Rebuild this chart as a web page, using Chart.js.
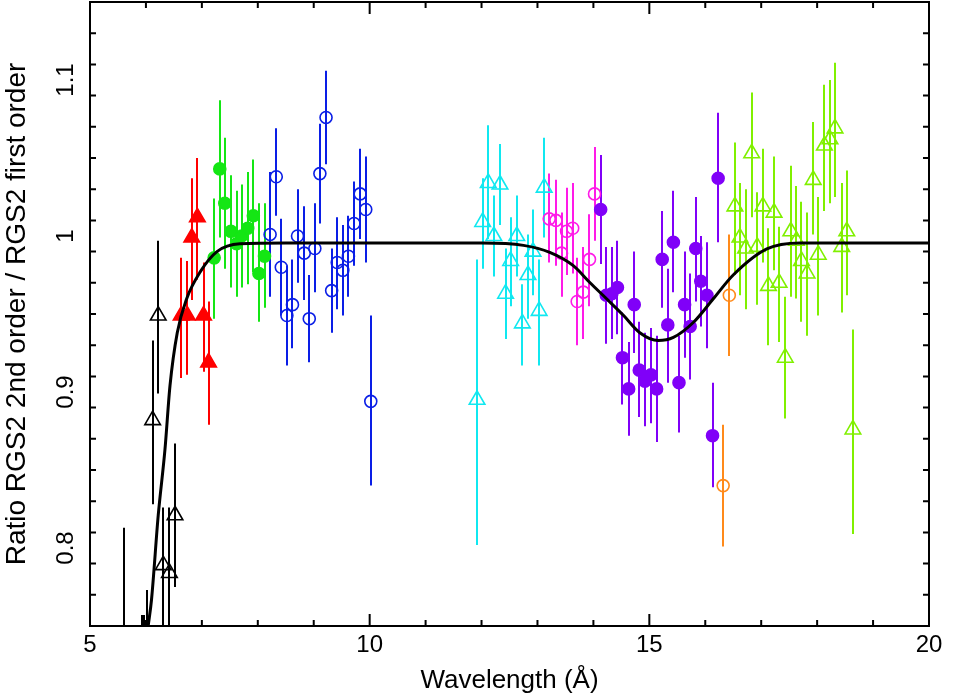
<!DOCTYPE html>
<html>
<head>
<meta charset="utf-8">
<script src="https://cdn.jsdelivr.net/npm/chart.js@4.4.1/dist/chart.umd.min.js"></script>
<style>
  html, body { margin: 0; padding: 0; background: #fff; }
  #wrap { width: 961px; height: 696px; }
</style>
</head>
<body>
<div id="wrap"><canvas id="myChart" width="961" height="696"></canvas></div>
<script>
// rows: [wavelength, ratio, error bar low, error bar high]
const black = [
    [5.61, 0.70, 0.59, 0.813],
    [5.93, 0.70, 0.64, 0.757],
    [5.96, 0.70, 0.64, 0.757],
    [6.02, 0.70, 0.63, 0.773],
    [6.12, 0.882, 0.828, 0.933],
    [6.22, 0.949, 0.899, 0.997],
    [6.31, 0.789, 0.70, 0.826],
    [6.42, 0.784, 0.70, 0.826],
    [6.52, 0.821, 0.775, 0.867],
];
const red = [
    [6.63, 0.949, 0.909, 0.986],
    [6.74, 0.949, 0.911, 0.984],
    [6.82, 0.999, 0.959, 1.037],
    [6.92, 1.012, 0.972, 1.050],
    [7.03, 0.949, 0.913, 0.983],
    [7.12, 0.919, 0.879, 0.958],
];
const green = [
    [7.22, 0.986, 0.947, 1.024],
    [7.32, 1.043, 0.999, 1.087],
    [7.41, 1.021, 0.979, 1.063],
    [7.52, 1.003, 0.967, 1.039],
    [7.62, 0.995, 0.961, 1.029],
    [7.71, 1.000, 0.967, 1.033],
    [7.82, 1.005, 0.969, 1.041],
    [7.92, 1.013, 0.977, 1.049],
    [8.02, 0.976, 0.945, 1.021],
    [8.12, 0.987, 0.954, 1.021],
];
const blue = [
    [8.22, 1.001, 0.961, 1.041],
    [8.33, 1.038, 1.013, 1.069],
    [8.42, 0.980, 0.949, 1.011],
    [8.52, 0.949, 0.917, 0.981],
    [8.62, 0.956, 0.928, 0.985],
    [8.71, 1.000, 0.970, 1.030],
    [8.83, 0.989, 0.959, 1.019],
    [8.92, 0.947, 0.919, 0.975],
    [9.02, 0.992, 0.964, 1.021],
    [9.11, 1.040, 1.008, 1.072],
    [9.22, 1.076, 1.046, 1.106],
    [9.32, 0.965, 0.938, 0.992],
    [9.42, 0.983, 0.953, 1.012],
    [9.52, 0.978, 0.949, 1.007],
    [9.62, 0.987, 0.961, 1.013],
    [9.72, 1.008, 0.981, 1.035],
    [9.83, 1.027, 0.998, 1.056],
    [9.93, 1.017, 0.983, 1.051],
    [10.02, 0.894, 0.840, 0.949],
];
const cyan = [
    [11.92, 0.895, 0.802, 0.985],
    [12.02, 1.009, 0.979, 1.037],
    [12.12, 1.034, 0.998, 1.071],
    [12.22, 1.000, 0.974, 1.026],
    [12.33, 1.033, 1.007, 1.059],
    [12.43, 0.963, 0.934, 0.992],
    [12.52, 0.984, 0.955, 1.012],
    [12.63, 1.000, 0.974, 1.026],
    [12.73, 0.944, 0.917, 0.969],
    [12.83, 0.975, 0.947, 1.001],
    [12.92, 0.990, 0.962, 1.017],
    [13.03, 0.952, 0.917, 0.985],
    [13.12, 1.031, 0.999, 1.063],
];
const magenta = [
    [13.21, 1.011, 0.983, 1.040],
    [13.33, 1.010, 0.981, 1.036],
    [13.43, 0.989, 0.961, 1.015],
    [13.52, 1.003, 0.975, 1.031],
    [13.63, 1.005, 0.976, 1.034],
    [13.71, 0.958, 0.930, 0.986],
    [13.82, 0.964, 0.934, 0.993],
    [13.93, 0.985, 0.955, 1.014],
    [14.02, 1.027, 0.997, 1.057],
];
const purple = [
    [14.13, 1.017, 0.982, 1.052],
    [14.23, 0.962, 0.931, 0.993],
    [14.33, 0.963, 0.934, 0.993],
    [14.43, 0.967, 0.937, 0.997],
    [14.52, 0.922, 0.892, 0.951],
    [14.63, 0.902, 0.872, 0.932],
    [14.73, 0.956, 0.925, 0.990],
    [14.82, 0.914, 0.884, 0.945],
    [14.92, 0.907, 0.878, 0.938],
    [15.03, 0.911, 0.880, 0.941],
    [15.13, 0.902, 0.868, 0.936],
    [15.23, 0.985, 0.954, 1.016],
    [15.33, 0.943, 0.906, 0.979],
    [15.43, 0.996, 0.964, 1.029],
    [15.53, 0.906, 0.874, 0.936],
    [15.63, 0.956, 0.922, 0.990],
    [15.73, 0.942, 0.908, 0.976],
    [15.83, 0.992, 0.958, 1.025],
    [15.92, 0.971, 0.942, 1.000],
    [16.03, 0.962, 0.928, 0.996],
    [16.13, 0.872, 0.839, 0.906],
    [16.23, 1.037, 0.996, 1.079],
];
const orange = [
    [16.32, 0.840, 0.801, 0.879],
    [16.43, 0.962, 0.923, 1.001],
];
const lime = [
    [16.53, 1.019, 0.975, 1.060],
    [16.62, 0.999, 0.962, 1.034],
    [16.72, 0.992, 0.953, 1.030],
    [16.83, 1.053, 1.012, 1.092],
    [16.93, 0.993, 0.956, 1.028],
    [17.03, 1.019, 0.983, 1.056],
    [17.13, 0.968, 0.930, 1.005],
    [17.23, 1.015, 0.978, 1.051],
    [17.32, 0.970, 0.932, 1.006],
    [17.43, 0.922, 0.883, 0.961],
    [17.53, 1.003, 0.961, 1.045],
    [17.63, 0.997, 0.960, 1.032],
    [17.72, 0.984, 0.945, 1.022],
    [17.82, 0.976, 0.936, 1.015],
    [17.93, 1.036, 1.001, 1.073],
    [18.02, 0.988, 0.949, 1.025],
    [18.13, 1.058, 1.016, 1.097],
    [18.23, 1.062, 1.021, 1.100],
    [18.32, 1.069, 1.025, 1.111],
    [18.44, 0.993, 0.951, 1.034],
    [18.53, 1.003, 0.962, 1.042],
    [18.64, 0.876, 0.809, 0.940],
];
// model curve
const curveX = [6.04, 6.10, 6.22, 6.34, 6.43, 6.56, 6.73, 6.97, 7.27, 7.68, 8.5, 12.0, 12.75, 13.22, 13.64, 13.94, 14.24, 14.54, 14.83, 15.16, 15.43, 15.79, 16.14, 16.5, 17.1, 17.69, 20.0];
const curveY = [0.75, 0.767, 0.821, 0.863, 0.904, 0.938, 0.960, 0.977, 0.990, 0.995, 0.9955, 0.9955, 0.994, 0.9895, 0.981, 0.970, 0.9596, 0.949, 0.938, 0.933, 0.935, 0.9447, 0.9596, 0.975, 0.9917, 0.9955, 0.9955];

const xTicks = [5, 10, 15, 20];
const yTicks = [0.8, 0.9, 1.0, 1.1];
const xMinor = 1;
const yMinor = 0.02;
const font = 'Liberation Sans';

function series(rows, color, style, filled, radius) {
    return {
        data: rows.map(r => ({x: r[0], y: r[1]})),
        bars: rows,
        borderColor: color,
        backgroundColor: filled ? color : 'rgba(0,0,0,0)',
        pointStyle: style,
        pointRadius: radius,
        borderWidth: 1.6,
        showLine: false,
    };
}

const errorBars = {
    id: 'errorBars',
    beforeDatasetsDraw(chart) {
        const {ctx, chartArea: a, scales: {x, y}} = chart;
        ctx.save();
        ctx.beginPath();
        ctx.rect(a.left, a.top, a.right - a.left, a.bottom - a.top);
        ctx.clip();
        ctx.lineWidth = 2;
        chart.data.datasets.forEach(ds => {
            if (!ds.bars) return;
            ctx.strokeStyle = ds.borderColor;
            ds.bars.forEach(r => {
                const px = Math.round(x.getPixelForValue(r[0]));
                ctx.beginPath();
                ctx.moveTo(px, y.getPixelForValue(r[2]));
                ctx.lineTo(px, y.getPixelForValue(r[3]));
                ctx.stroke();
            });
        });
        ctx.restore();
    }
};

const frame = {
    id: 'frame',
    afterDraw(chart) {
        const {ctx, chartArea: a, scales: {x, y}} = chart;
        ctx.save();
        ctx.strokeStyle = '#000';
        ctx.lineWidth = 2;
        ctx.strokeRect(a.left, a.top, a.right - a.left, a.bottom - a.top);
        ctx.beginPath();
        for (let v = x.min; v <= x.max + 1e-9; v += xMinor) {
            const len = xTicks.some(t => Math.abs(t - v) < 1e-6) ? 12 : 6;
            const px = x.getPixelForValue(v);
            ctx.moveTo(px, a.bottom); ctx.lineTo(px, a.bottom - len);
            ctx.moveTo(px, a.top); ctx.lineTo(px, a.top + len);
        }
        for (let i = 0; y.min + i * yMinor <= y.max + 1e-9; i++) {
            const v = y.min + i * yMinor;
            const len = yTicks.some(t => Math.abs(t - v) < 1e-6) ? 12 : 6;
            const py = y.getPixelForValue(v);
            ctx.moveTo(a.left, py); ctx.lineTo(a.left + len, py);
            ctx.moveTo(a.right, py); ctx.lineTo(a.right - len, py);
        }
        ctx.stroke();
        // y tick labels, written along the axis
        ctx.fillStyle = '#000';
        ctx.font = '24px "' + font + '"';
        ctx.textAlign = 'center';
        ctx.textBaseline = 'middle';
        yTicks.forEach(v => {
            ctx.save();
            ctx.translate(66, y.getPixelForValue(v));
            ctx.rotate(-Math.PI / 2);
            ctx.fillText(String(parseFloat(v.toFixed(2))), 0, 0);
            ctx.restore();
        });
        ctx.restore();
    }
};

const datasets = [
    {
        type: 'line',
        data: curveX.map((v, i) => ({x: v, y: curveY[i]})),
        borderColor: '#000',
        borderWidth: 3,
        pointRadius: 0,
        cubicInterpolationMode: 'monotone',
        fill: false,
        order: -1,
    },
    series(black, '#000000', 'triangle', false, 9),
    series(red, '#ff0000', 'triangle', true, 9),
    series(green, '#14e614', 'circle', true, 6),
    series(blue, '#0a1ee6', 'circle', false, 6),
    series(cyan, '#10e8f0', 'triangle', false, 9),
    series(magenta, '#ff1ae8', 'circle', false, 6),
    series(purple, '#8000f8', 'circle', true, 6),
    series(orange, '#ff8a1a', 'circle', false, 6),
    series(lime, '#80f000', 'triangle', false, 9),
];

new Chart(document.getElementById('myChart'), {
    type: 'scatter',
    data: {datasets: datasets},
    plugins: [errorBars, frame],
    options: {
        responsive: false,
        devicePixelRatio: 1,
        animation: false,
        events: [],
        layout: {autoPadding: false, padding: {left: 0, right: 32, top: 2, bottom: 0}},
        plugins: {legend: {display: false}, tooltip: {enabled: false}},
        scales: {
            x: {
                type: 'linear',
                min: 5,
                max: 20,
                afterBuildTicks: s => { s.ticks = xTicks.map(v => ({value: v})); },
                afterFit: s => { s.height = 70; },
                grid: {display: false, drawTicks: false},
                border: {display: false},
                ticks: {
                    color: '#000',
                    font: {family: font, size: 24},
                    padding: 5,
                    maxRotation: 0,
                    callback: v => String(v),
                },
                title: {
                    display: true,
                    text: 'Wavelength (Å)',
                    color: '#000',
                    font: {family: font, size: 26},
                    padding: 0,
                },
            },
            y: {
                type: 'linear',
                min: 0.75,
                max: 1.15,
                afterBuildTicks: s => { s.ticks = yTicks.map(v => ({value: v})); },
                afterFit: s => { s.width = 90; },
                grid: {display: false, drawTicks: false},
                border: {display: false},
                ticks: {display: false},
                title: {
                    display: true,
                    text: 'Ratio RGS2 2nd order / RGS2 first order',
                    color: '#000',
                    font: {family: font, size: 28},
                    padding: 0,
                },
            },
        },
    },
});
</script>
</body>
</html>
